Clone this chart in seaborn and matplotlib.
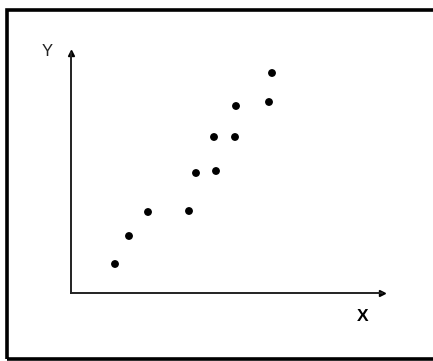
import pandas as pd
import seaborn as sns
import matplotlib.pyplot as plt
from matplotlib.patches import Rectangle

# values (arbitrary units, origin at the axis corner)
x_vals = [4.4, 5.8, 7.7, 11.8, 12.5, 14.5, 14.3, 16.4, 16.5, 19.8, 20.1]
y_vals = [2.9, 5.7, 8.1, 8.2, 12.0, 12.2, 15.6, 15.6, 18.7, 19.1, 22.0]
x_label = "X"
y_label = "Y"

W, H = 433, 361

if __name__ == "__main__":
    data = pd.DataFrame({"x": x_vals, "y": y_vals})

    sns.set_theme(style="white")
    plt.rcParams['font.family'] = ['Liberation Sans', 'DejaVu Sans']

    fig = plt.figure(figsize=(W / 100, H / 100), dpi=100)
    fig.patch.set_facecolor("white")

    # axes placed so the axis corner sits at (71, 293) px
    ax = fig.add_axes([71 / W, (H - 293) / H, (382 - 71) / W, (293 - 53) / H])
    sns.scatterplot(data=data, x="x", y="y", ax=ax, color="black",
                    s=32, edgecolor="none", legend=False)
    ax.set_xlim(0, 31.1)
    ax.set_ylim(0, 24)
    ax.set_xticks([])
    ax.set_yticks([])
    ax.set_xlabel("")
    ax.set_ylabel("")
    ax.set_facecolor("none")
    for side in ["top", "right"]:
        ax.spines[side].set_visible(False)
    for side in ["left", "bottom"]:
        ax.spines[side].set_color("#222222")
        ax.spines[side].set_linewidth(1.4)

    # arrow heads
    ax.plot(1, 0, ">", color="black", ms=5, transform=ax.transAxes, clip_on=False)
    ax.plot(0, 1, "^", color="black", ms=5, transform=ax.transAxes, clip_on=False)

    fig.text(47.5 / W, 1 - 51 / H, y_label, ha="center", va="center",
             fontsize=12, color="#222222")
    fig.text(362.5 / W, 1 - 316.5 / H, x_label, ha="center", va="center",
             fontsize=12.5, fontweight="bold", color="black")

    # outer frame, open on the right
    frame = Rectangle((7.5 / W, (H - 358.5) / H), 3.0, (358.5 - 10) / H,
                      transform=fig.transFigure, fill=False,
                      edgecolor="black", linewidth=2.6, clip_on=False)
    fig.add_artist(frame)

    fig.savefig("out.png", dpi=100)
